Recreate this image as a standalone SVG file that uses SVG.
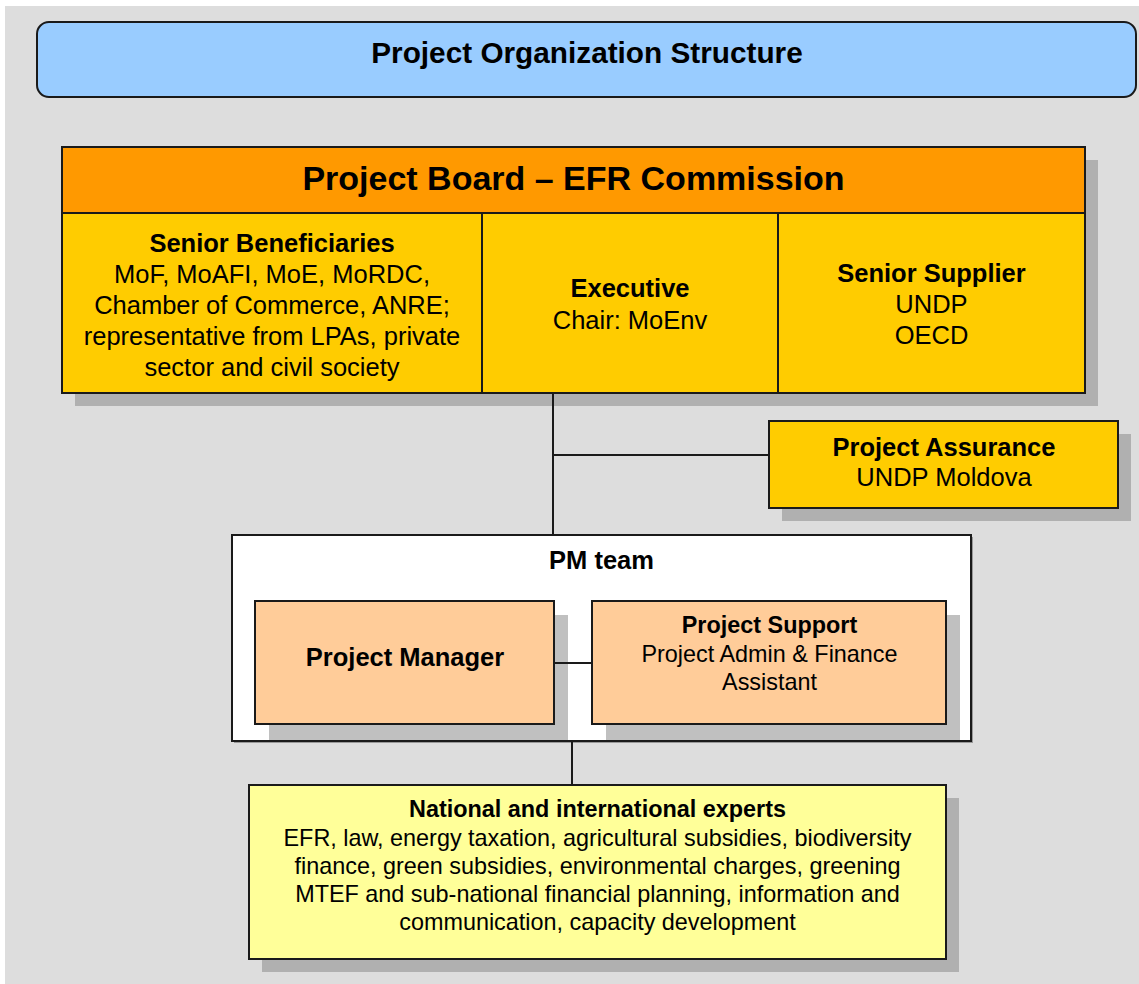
<svg xmlns="http://www.w3.org/2000/svg" width="1139" height="984" viewBox="0 0 1139 984">
  <style>
    .box { stroke: #1a1a1a; stroke-width: 2; }
    .shadow { fill: #b0b0b0; }
    .shadow-light { fill: #c0c0c0; }
    .line { stroke: #1a1a1a; stroke-width: 2; fill: none; }
    text { font-family: "Liberation Sans", Arial, sans-serif; fill: #000; text-anchor: middle; }
    .b { font-weight: bold; }
    .t12 { font-size: 25.5px; }
    .t11 { font-size: 23.4px; }
  </style>

  <!-- page background -->
  <rect x="0" y="0" width="1139" height="984" fill="#ffffff"/>
  <rect x="5" y="6" width="1134" height="978" fill="#dddddd"/>

  <!-- title banner -->
  <g id="title">
    <rect class="box" x="37" y="22" width="1099" height="75" rx="12" ry="12" fill="#99ccff"/>
    <text class="b" x="587" y="62.5" font-size="29.75px">Project Organization Structure</text>
  </g>

  <!-- project board -->
  <g id="project-board">
    <rect class="shadow" x="75" y="160" width="1023" height="246"/>
    <rect class="box" x="62" y="147" width="1023" height="66" fill="#ff9900"/>
    <text class="b" x="573.5" y="190" font-size="34px">Project Board – EFR Commission</text>
  </g>

  <g id="senior-beneficiaries">
    <rect class="box" x="62" y="213" width="420" height="180" fill="#ffcc00"/>
    <text class="t12"><tspan class="b" x="272" y="252">Senior Beneficiaries</tspan><tspan x="272" y="283">MoF, MoAFI, MoE, MoRDC,</tspan><tspan x="272" y="314">Chamber of Commerce, ANRE;</tspan><tspan x="272" y="345">representative from LPAs, private</tspan><tspan x="272" y="376">sector and civil society</tspan></text>
  </g>

  <g id="executive">
    <rect class="box" x="482" y="213" width="296" height="180" fill="#ffcc00"/>
    <text class="t12"><tspan class="b" x="630" y="297">Executive</tspan><tspan x="630" y="329">Chair: MoEnv</tspan></text>
  </g>

  <g id="senior-supplier">
    <rect class="box" x="778" y="213" width="307" height="180" fill="#ffcc00"/>
    <text class="t12"><tspan class="b" x="931.5" y="282">Senior Supplier</tspan><tspan x="931.5" y="313">UNDP</tspan><tspan x="931.5" y="344">OECD</tspan></text>
  </g>

  <!-- project assurance -->
  <g id="project-assurance">
    <rect class="shadow" x="782" y="434" width="349" height="87"/>
    <rect class="box" x="769" y="421" width="349" height="87" fill="#ffcc00"/>
    <text class="t12"><tspan class="b" x="944" y="456">Project Assurance</tspan><tspan x="944" y="486">UNDP Moldova</tspan></text>
  </g>

  <!-- project management team -->
  <g id="pm-team">
    <rect x="234" y="537" width="739" height="206" fill="#999999"/>
    <rect class="box" x="232" y="535" width="739" height="206" fill="#ffffff"/>
    <text class="b t12" x="601.5" y="569">PM team</text>
  </g>

  <g id="project-manager">
    <rect class="shadow-light" x="269" y="615" width="299" height="125"/>
    <rect class="box" x="255" y="601" width="299" height="123" fill="#ffcc99"/>
    <text class="b t12" x="405" y="666">Project Manager</text>
  </g>

  <g id="project-support">
    <rect class="shadow-light" x="606" y="615" width="354" height="125"/>
    <rect class="box" x="592" y="601" width="354" height="123" fill="#ffcc99"/>
    <text class="t11"><tspan class="b" x="769.5" y="633">Project Support</tspan><tspan x="769.5" y="661.5">Project Admin &amp; Finance</tspan><tspan x="769.5" y="690">Assistant</tspan></text>
  </g>

  <!-- experts -->
  <g id="experts">
    <rect class="shadow" x="262" y="798" width="697" height="174"/>
    <rect class="box" x="249" y="785" width="697" height="174" fill="#ffff99"/>
    <text class="t11"><tspan class="b" x="597.5" y="816.5">National and international experts</tspan><tspan x="597.5" y="845.5">EFR, law, energy taxation, agricultural subsidies, biodiversity</tspan><tspan x="597.5" y="873.5">finance, green subsidies, environmental charges, greening</tspan><tspan x="597.5" y="901.5">MTEF and sub-national financial planning, information and</tspan><tspan x="597.5" y="929.5">communication, capacity development</tspan></text>
  </g>

  <!-- connectors -->
  <g id="connectors">
    <line class="line" x1="553" y1="393" x2="553" y2="535"/>
    <line class="line" x1="553" y1="455" x2="769" y2="455"/>
    <line class="line" x1="554" y1="663" x2="592" y2="663"/>
    <line class="line" x1="572" y1="741" x2="572" y2="785"/>
  </g>
</svg>
